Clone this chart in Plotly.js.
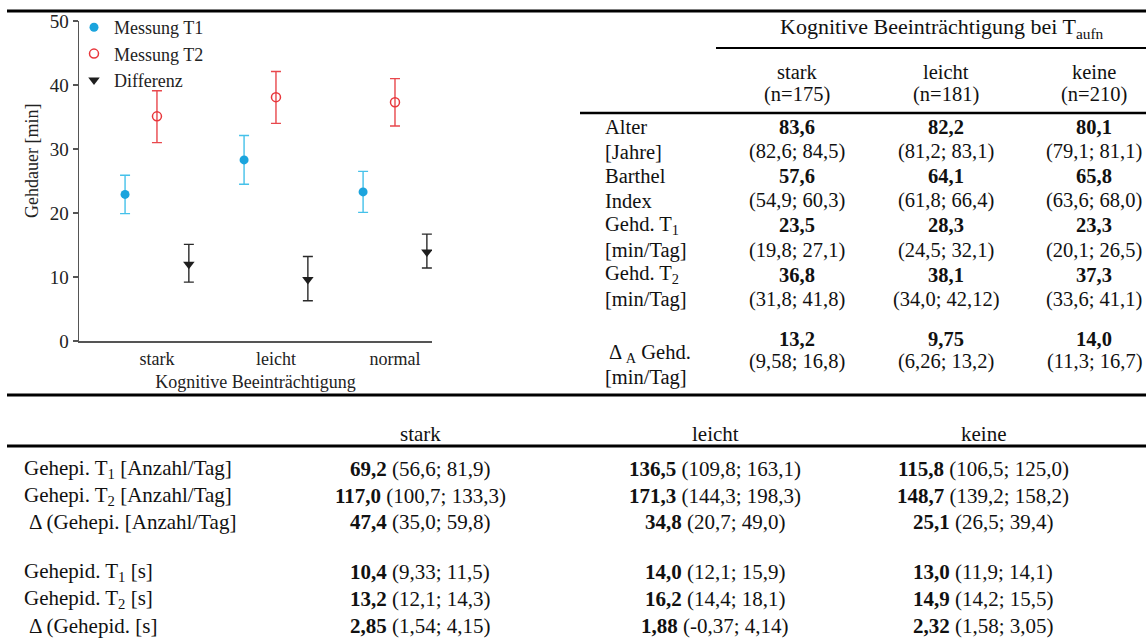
<!DOCTYPE html>
<html>
<head>
<meta charset="utf-8">
<script src="https://cdn.plot.ly/plotly-3.0.1.min.js"></script>
<style>html,body{margin:0;padding:0;background:#fff;}#chart{width:1146px;height:639px;}</style>
</head>
<body>
<div id="chart"></div>
<script>
// ---------- chart data ----------
const categories = ['stark', 'leicht', 'normal'];
const t1Mean = [22.9, 28.3, 23.3];
const t1Lo   = [19.9, 24.5, 20.1];
const t1Hi   = [25.9, 32.1, 26.5];
const t2Mean = [35.1, 38.1, 37.3];
const t2Lo   = [31.0, 34.0, 33.6];
const t2Hi   = [39.1, 42.1, 41.0];
const dMean  = [12.0, 9.6, 13.9];
const dLo    = [9.2, 6.3, 11.4];
const dHi    = [15.1, 13.2, 16.7];
const seriesNames = ['Messung T1', 'Messung T2', 'Differenz'];
const yTicks = [0, 10, 20, 30, 40, 50];
const xTitle = 'Kognitive Beeinträchtigung';
const yTitle = 'Gehdauer [min]';

// ---------- right table data ----------
const rtTitle = 'Kognitive Beeinträchtigung bei T<sub>aufn</sub>';
const rtGroups = ['stark', 'leicht', 'keine'];
const rtN = ['(n=175)', '(n=181)', '(n=210)'];
const rtLabels = ['Alter', '[Jahre]', 'Barthel', 'Index', 'Gehd. T<sub>1</sub>', '[min/Tag]', 'Gehd. T<sub>2</sub>', '[min/Tag]'];
const rtMeans = [
  ['83,6', '82,2', '80,1'],
  ['57,6', '64,1', '65,8'],
  ['23,5', '28,3', '23,3'],
  ['36,8', '38,1', '37,3']
];
const rtCIs = [
  ['(82,6; 84,5)', '(81,2; 83,1)', '(79,1; 81,1)'],
  ['(54,9; 60,3)', '(61,8; 66,4)', '(63,6; 68,0)'],
  ['(19,8; 27,1)', '(24,5; 32,1)', '(20,1; 26,5)'],
  ['(31,8; 41,8)', '(34,0; 42,12)', '(33,6; 41,1)']
];
const rtDeltaLabel = ['Δ<sub> A</sub> Gehd.', '[min/Tag]'];
const rtDeltaMean = ['13,2', '9,75', '14,0'];
const rtDeltaCI = ['(9,58; 16,8)', '(6,26; 13,2)', '(11,3; 16,7)'];

// ---------- lower table data ----------
const ltGroups = ['stark', 'leicht', 'keine'];
const ltLabels = ['Gehepi. T<sub>1</sub> [Anzahl/Tag]', 'Gehepi. T<sub>2</sub> [Anzahl/Tag]', 'Δ (Gehepi. [Anzahl/Tag]',
                  'Gehepid. T<sub>1</sub> [s]', 'Gehepid. T<sub>2</sub> [s]', 'Δ (Gehepid. [s]'];
const ltMeans = [
  ['69,2', '136,5', '115,8'],
  ['117,0', '171,3', '148,7'],
  ['47,4', '34,8', '25,1'],
  ['10,4', '14,0', '13,0'],
  ['13,2', '16,2', '14,9'],
  ['2,85', '1,88', '2,32']
];
const ltCIs = [
  ['(56,6; 81,9)', '(109,8; 163,1)', '(106,5; 125,0)'],
  ['(100,7; 133,3)', '(144,3; 198,3)', '(139,2; 158,2)'],
  ['(35,0; 59,8)', '(20,7; 49,0)', '(26,5; 39,4)'],
  ['(9,33; 11,5)', '(12,1; 15,9)', '(11,9; 14,1)'],
  ['(12,1; 14,3)', '(14,4; 18,1)', '(14,2; 15,5)'],
  ['(1,54; 4,15)', '(-0,37; 4,14)', '(1,58; 3,05)']
];

// ---------- layout helpers ----------
const W = 1146, H = 639;
const px = x => x / W;
const py = y => 1 - y / H;
const FONT = 'Liberation Serif, Times New Roman, serif';
const idx = categories.map((_, i) => i);
const OFF = 0.268;

function errY(mean, lo, hi, color) {
  return {type: 'data', symmetric: false,
          array: mean.map((m, i) => hi[i] - m),
          arrayminus: mean.map((m, i) => m - lo[i]),
          color: color, thickness: 1.4, width: 5};
}

const traces = [
  {x: idx.map(i => i - OFF), y: t1Mean, name: seriesNames[0], type: 'scatter', mode: 'markers',
   marker: {color: '#1ba4dd', size: 9}, error_y: errY(t1Mean, t1Lo, t1Hi, '#45c1ea')},
  {x: idx.map(i => i), y: t2Mean, name: seriesNames[1], type: 'scatter', mode: 'markers',
   marker: {symbol: 'circle-open', color: '#e8373c', size: 9, line: {width: 1.5}}, error_y: errY(t2Mean, t2Lo, t2Hi, '#e8474c')},
  {x: idx.map(i => i + OFF), y: dMean, name: seriesNames[2], type: 'scatter', mode: 'markers',
   marker: {symbol: 'triangle-down', color: '#1e1e1e', size: 10}, error_y: errY(dMean, dLo, dHi, '#2a2a2a')}
];

const ann = [];
function txt(text, x, y, size, anchor, opts) {
  ann.push(Object.assign({text: text, x: px(x), y: py(y), xref: 'paper', yref: 'paper',
    xanchor: anchor || 'center', yanchor: 'middle', showarrow: false,
    font: {family: FONT, size: size, color: '#111'}}, opts || {}));
}

// y-axis title (placed as in the reference, slightly above the plot centre)
txt(yTitle, 32, 161, 18, 'center', {textangle: -90, font: {family: FONT, size: 18, color: '#222'}});

// right table
const RS = 20.5;
const rtCols = [797, 946, 1094];
txt(rtTitle, 942, 28, 22);
rtGroups.forEach((g, j) => { txt(g, rtCols[j], 72, RS); txt(rtN[j], rtCols[j], 94, RS); });
const rtRow0 = 127, rtStep = 24.6;
rtLabels.forEach((l, i) => txt(l, 603, rtRow0 + i * rtStep, RS, 'left'));
rtMeans.forEach((row, r) => row.forEach((v, j) => txt('<b>' + v + '</b>', rtCols[j], rtRow0 + 2 * r * rtStep, RS)));
rtCIs.forEach((row, r) => row.forEach((v, j) => txt(v, rtCols[j], rtRow0 + (2 * r + 1) * rtStep, RS)));
txt(rtDeltaLabel[0], 607, 353, RS, 'left');
txt(rtDeltaLabel[1], 603, 377, RS, 'left');
rtDeltaMean.forEach((v, j) => txt('<b>' + v + '</b>', rtCols[j], 339, RS));
rtDeltaCI.forEach((v, j) => txt(v, rtCols[j], 361, RS));

// lower table
const LS = 21;
const ltCols = [420, 715, 983];
ltGroups.forEach((g, j) => txt(g, ltCols[j], 434, LS));
const ltRowY = [469, 496, 522, 572, 599, 626];
ltLabels.forEach((l, i) => txt(l, (i === 2 || i === 5) ? 27 : 22, ltRowY[i], LS, 'left'));
ltMeans.forEach((row, r) => row.forEach((v, j) => txt('<b>' + v + '</b> ' + ltCIs[r][j], ltCols[j], ltRowY[r], LS)));

function hline(x0, x1, y, w) {
  return {type: 'line', xref: 'paper', yref: 'paper', x0: px(x0), x1: px(x1), y0: py(y), y1: py(y),
          line: {color: '#000', width: w}};
}
const shapes = [
  hline(7, 1146, 11, 3),
  hline(716, 1146, 48, 2),
  hline(580, 1146, 113, 2.5),
  hline(7, 1146, 395, 3),
  hline(7, 1146, 446, 3)
];

const layout = {
  width: W, height: H,
  margin: {l: 0, r: 0, t: 0, b: 0},
  paper_bgcolor: '#fff', plot_bgcolor: '#fff',
  font: {family: FONT, size: 18, color: '#222'},
  showlegend: true,
  legend: {x: px(74), y: py(9), xanchor: 'left', yanchor: 'top', bgcolor: 'rgba(0,0,0,0)',
           font: {family: FONT, size: 18, color: '#222'}, tracegroupgap: 0, itemwidth: 30},
  xaxis: {domain: [px(79), px(432)], range: [-0.655, 2.311], tickvals: idx, ticktext: categories,
          showline: true, linecolor: '#555', linewidth: 1.5, ticks: '', showgrid: false, zeroline: false,
          tickfont: {family: FONT, size: 18, color: '#222'}, ticklabelstandoff: 1, fixedrange: true,
          title: {text: xTitle, font: {family: FONT, size: 18, color: '#222'}, standoff: 7}},
  yaxis: {domain: [py(341), py(21)], range: [0, 50], tickvals: yTicks,
          showline: true, linecolor: '#555', linewidth: 1.5, ticks: 'outside', ticklen: 5, tickcolor: '#555', tickwidth: 1.2,
          showgrid: false, zeroline: false, tickfont: {family: FONT, size: 19, color: '#222'}, fixedrange: true},
  annotations: ann,
  shapes: shapes
};

Plotly.newPlot('chart', traces, layout, {displayModeBar: false, staticPlot: true});
</script>
</body>
</html>
